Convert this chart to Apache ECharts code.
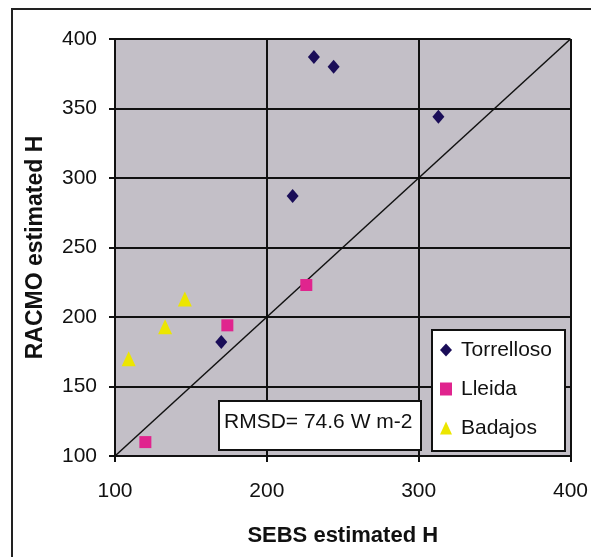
<!DOCTYPE html>
<html>
<head>
<meta charset="utf-8">
<script src="https://cdn.jsdelivr.net/npm/echarts@6/dist/echarts.min.js"></script>
<style>
  html, body { margin: 0; padding: 0; background: #fff; }
  #chart { width: 591px; height: 557px; }
</style>
</head>
<body>
<div id="chart"></div>
<script>
// Sensible heat flux: SEBS estimate (x) vs RACMO estimate (y), W m-2
const torrelloso = [[231, 387], [244, 380], [313, 344], [217, 287], [170, 182]];
const lleida = [[226, 223], [174, 194], [120, 110]];
const badajos = [[109, 170], [133, 193], [146, 213]];
const oneToOne = [[100, 100], [400, 400]];
const xTicks = { min: 100, max: 400, interval: 100 };
const yTicks = { min: 100, max: 400, interval: 50 };
const rmsdText = 'RMSD= 74.6 W m-2';

const FONT = '"Liberation Sans", Arial, sans-serif';
const chart = echarts.init(document.getElementById('chart'), null, { renderer: 'canvas' });

chart.setOption({
  animation: false,
  backgroundColor: '#ffffff',
  grid: {
    left: 115, top: 39, width: 460, height: 417,
    show: true, backgroundColor: '#c3bfc7', borderWidth: 0
  },
  xAxis: {
    type: 'value', min: xTicks.min, max: xTicks.max, interval: xTicks.interval,
    name: 'SEBS estimated H', nameLocation: 'middle', nameGap: 69,
    nameTextStyle: { fontFamily: FONT, fontSize: 22, fontWeight: 'bold', color: '#111' },
    axisLine: { lineStyle: { color: '#111', width: 2 } },
    axisTick: { show: true, inside: false, length: 6, lineStyle: { color: '#111', width: 2 } },
    axisLabel: { fontFamily: FONT, fontSize: 21, color: '#111', margin: 25 },
    splitLine: { show: true, lineStyle: { color: '#111', width: 2 } }
  },
  yAxis: {
    type: 'value', min: yTicks.min, max: yTicks.max, interval: yTicks.interval,
    name: 'RACMO estimated H', nameLocation: 'middle', nameGap: 68,
    nameTextStyle: { fontFamily: FONT, fontSize: 23, fontWeight: 'bold', color: '#111' },
    axisLine: { show: true, lineStyle: { color: '#111', width: 2 } },
    axisTick: { show: true, inside: false, length: 6, lineStyle: { color: '#111', width: 2 } },
    axisLabel: { fontFamily: FONT, fontSize: 21, color: '#111', margin: 18 },
    splitLine: { show: true, lineStyle: { color: '#111', width: 2 } }
  },
  legend: {
    orient: 'vertical', left: 440, top: 338, padding: 0, z: 10,
    itemWidth: 12, itemHeight: 13, itemGap: 15,
    textStyle: { fontFamily: FONT, fontSize: 21, color: '#111', lineHeight: 24, padding: [0, 0, 0, 4] },
    data: [
      { name: 'Torrelloso', icon: 'diamond' },
      { name: 'Lleida', icon: 'rect' },
      { name: 'Badajos', icon: 'triangle' }
    ]
  },
  graphic: [
    // outer frame of the figure
    { type: 'rect', z: -10, shape: { x: 12, y: 9, width: 600, height: 600 },
      style: { fill: 'none', stroke: '#222', lineWidth: 2 } },
    // legend frame
    { type: 'rect', z: 5, shape: { x: 432, y: 330, width: 133, height: 121 },
      style: { fill: '#ffffff', stroke: '#111', lineWidth: 2 } },
    // RMSD annotation box
    { type: 'rect', z: 5, shape: { x: 219, y: 401, width: 202, height: 49 },
      style: { fill: '#ffffff', stroke: '#111', lineWidth: 2 } },
    { type: 'text', z: 6, left: 224, top: 412,
      style: { text: rmsdText, fontFamily: FONT, fontSize: 21, fill: '#111' } }
  ],
  series: [
    {
      type: 'line', name: '1:1', data: oneToOne, showSymbol: false, symbol: 'none',
      lineStyle: { color: '#111', width: 1.5 }, z: 3, silent: true
    },
    {
      type: 'scatter', name: 'Torrelloso', data: torrelloso,
      symbol: 'diamond', symbolSize: [12, 14], itemStyle: { color: '#1a0d58', opacity: 1 }, z: 4
    },
    {
      type: 'scatter', name: 'Lleida', data: lleida,
      symbol: 'rect', symbolSize: 12, itemStyle: { color: '#e0248e', opacity: 1 }, z: 4
    },
    {
      type: 'scatter', name: 'Badajos', data: badajos,
      symbol: 'triangle', symbolSize: [14, 15], itemStyle: { color: '#ece600', opacity: 1 }, z: 4
    }
  ]
});
</script>
</body>
</html>
